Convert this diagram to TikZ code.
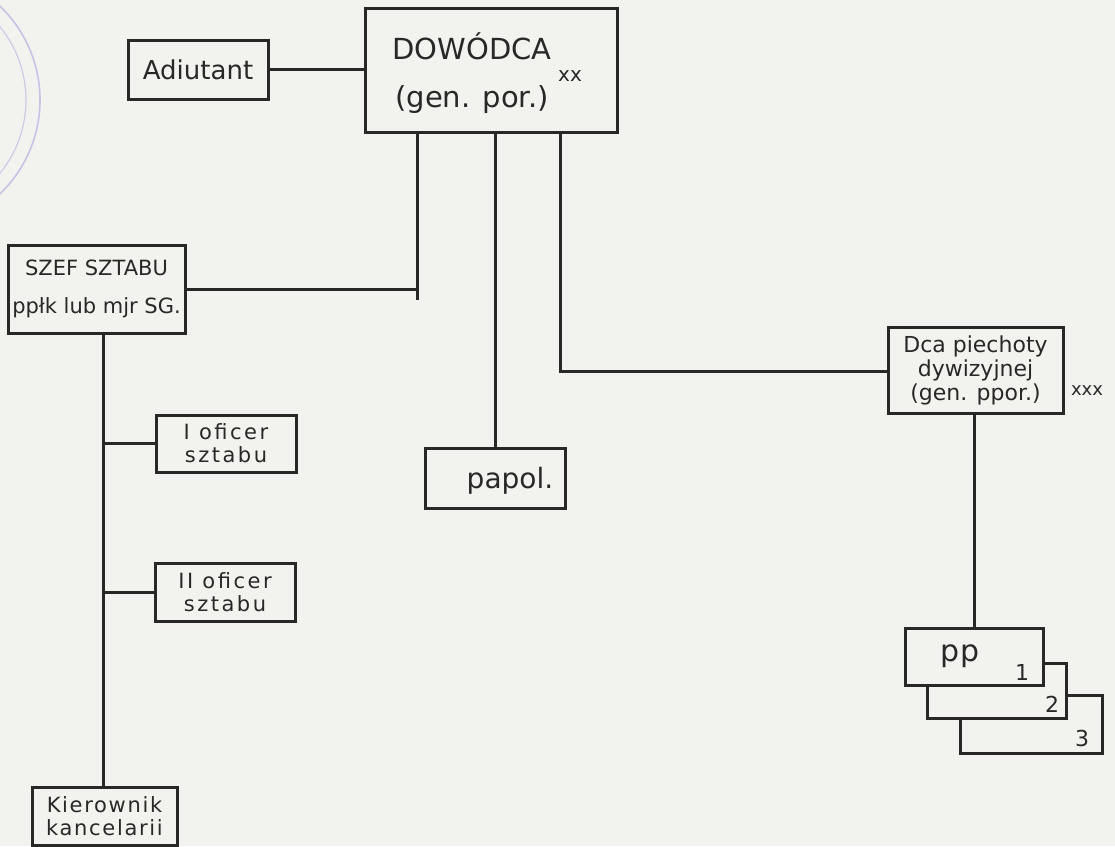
\documentclass[tikz,border=0pt]{standalone}
\usepackage{fontspec}
\setmainfont{DejaVu Sans}
\definecolor{paper}{RGB}{242,242,239}
\definecolor{ink}{RGB}{40,40,38}
\definecolor{stampc}{RGB}{185,175,225}
\begin{document}
\begin{tikzpicture}[x=1pt,y=-1pt,
  box/.style={draw=ink,line width=3pt,fill=paper,inner sep=0pt,align=center,text=ink,rectangle},
  link/.style={draw=ink,line width=3pt},
  txt/.style={text=ink,inner sep=0pt,align=center}]
\fill[paper] (0,0) rectangle (1115,846);
\useasboundingbox (0,0) rectangle (1115,846);
% stamp remnant
\draw[stampc,line width=1.6pt,opacity=0.7] (-90,100) ++(-50:130) arc[start angle=-50,end angle=50,radius=130];
\draw[stampc,line width=1.2pt,opacity=0.6] (-90,100) ++(-45:116) arc[start angle=-45,end angle=45,radius=116];
% boxes
\node[box,minimum width=252pt,minimum height=124pt] (dow) at (491,70) {};
\node[txt,font=\fontsize{29}{36}\selectfont] (dowlbl) at (472,73) {DOWÓDCA\\[12pt](gen. por.)};
\node[txt,font=\fontsize{20}{22}\selectfont] (dowsup) at (570,76) {xx};
\node[box,minimum width=140pt,minimum height=59pt,font=\fontsize{26}{28}\selectfont] (adj) at (198,69.5) {Adiutant};
\node[box,minimum width=177pt,minimum height=88pt,font=\fontsize{21}{38}\selectfont] (szef) at (96.5,289) {SZEF SZTABU\\ppłk lub mjr SG.};
\node[box,minimum width=140pt,minimum height=57pt,font=\fontsize{21}{23}\selectfont\addfontfeature{LetterSpace=12}] (of1) at (226,443.5) {I oficer\\sztabu};
\node[box,minimum width=140pt,minimum height=58pt,font=\fontsize{21}{23}\selectfont\addfontfeature{LetterSpace=12}] (of2) at (225,592) {II oficer\\sztabu};
\node[box,minimum width=145pt,minimum height=58pt,font=\fontsize{21}{23}\selectfont\addfontfeature{LetterSpace=8}] (kier) at (104.5,816) {Kierownik\\kancelarii};
\node[box,minimum width=140pt,minimum height=60pt] (papol) at (495,478) {};
\node[txt,font=\fontsize{28}{30}\selectfont] (papollbl) at (510,481) {papol.};
\node[box,minimum width=175pt,minimum height=86pt,font=\fontsize{22}{24}\selectfont] (dca) at (975.5,370) {Dca piechoty\\dywizyjnej\\(gen. ppor.)};
\node[txt,font=\fontsize{18}{20}\selectfont] (dcasup) at (1087,391) {xxx};
% stacked pp boxes
\node[box,minimum width=142pt,minimum height=58pt] (pp3) at (1031,724) {};
\node[box,minimum width=139pt,minimum height=55pt] (pp2) at (996.5,690.5) {};
\node[box,minimum width=138pt,minimum height=57pt] (pp1) at (974,656.5) {};
\node[txt,font=\fontsize{30}{32}\selectfont] (pplbl) at (960,656) {pp};
\node[txt,font=\fontsize{22}{24}\selectfont] (n1) at (1022,672) {1};
\node[txt,font=\fontsize{22}{24}\selectfont] (n2) at (1052,704) {2};
\node[txt,font=\fontsize{22}{24}\selectfont] (n3) at (1082,738) {3};
% junctions
\coordinate (j1) at (417,300);
\coordinate (j2) at (560,371);
\coordinate (spine) at (103,333);
% connectors
\draw[link] (adj.east) -- (adj.east -| dow.west);
\draw[link] (dow.south -| j1) -- (j1);
\draw[link] (szef.east) -- (szef.east -| j1);
\draw[link] (papol.north |- dow.south) -- (papol.north);
\draw[link] (dow.south -| j2) -- (j2) -- (j2 -| dca.west);
\draw[link] (szef.south -| spine) -- (kier.north -| spine);
\draw[link] (of1.west) -- (of1.west -| spine);
\draw[link] (of2.west) -- (of2.west -| spine);
\draw[link] (dca.south -| pp1.north) -- (pp1.north);
\end{tikzpicture}
\end{document}
